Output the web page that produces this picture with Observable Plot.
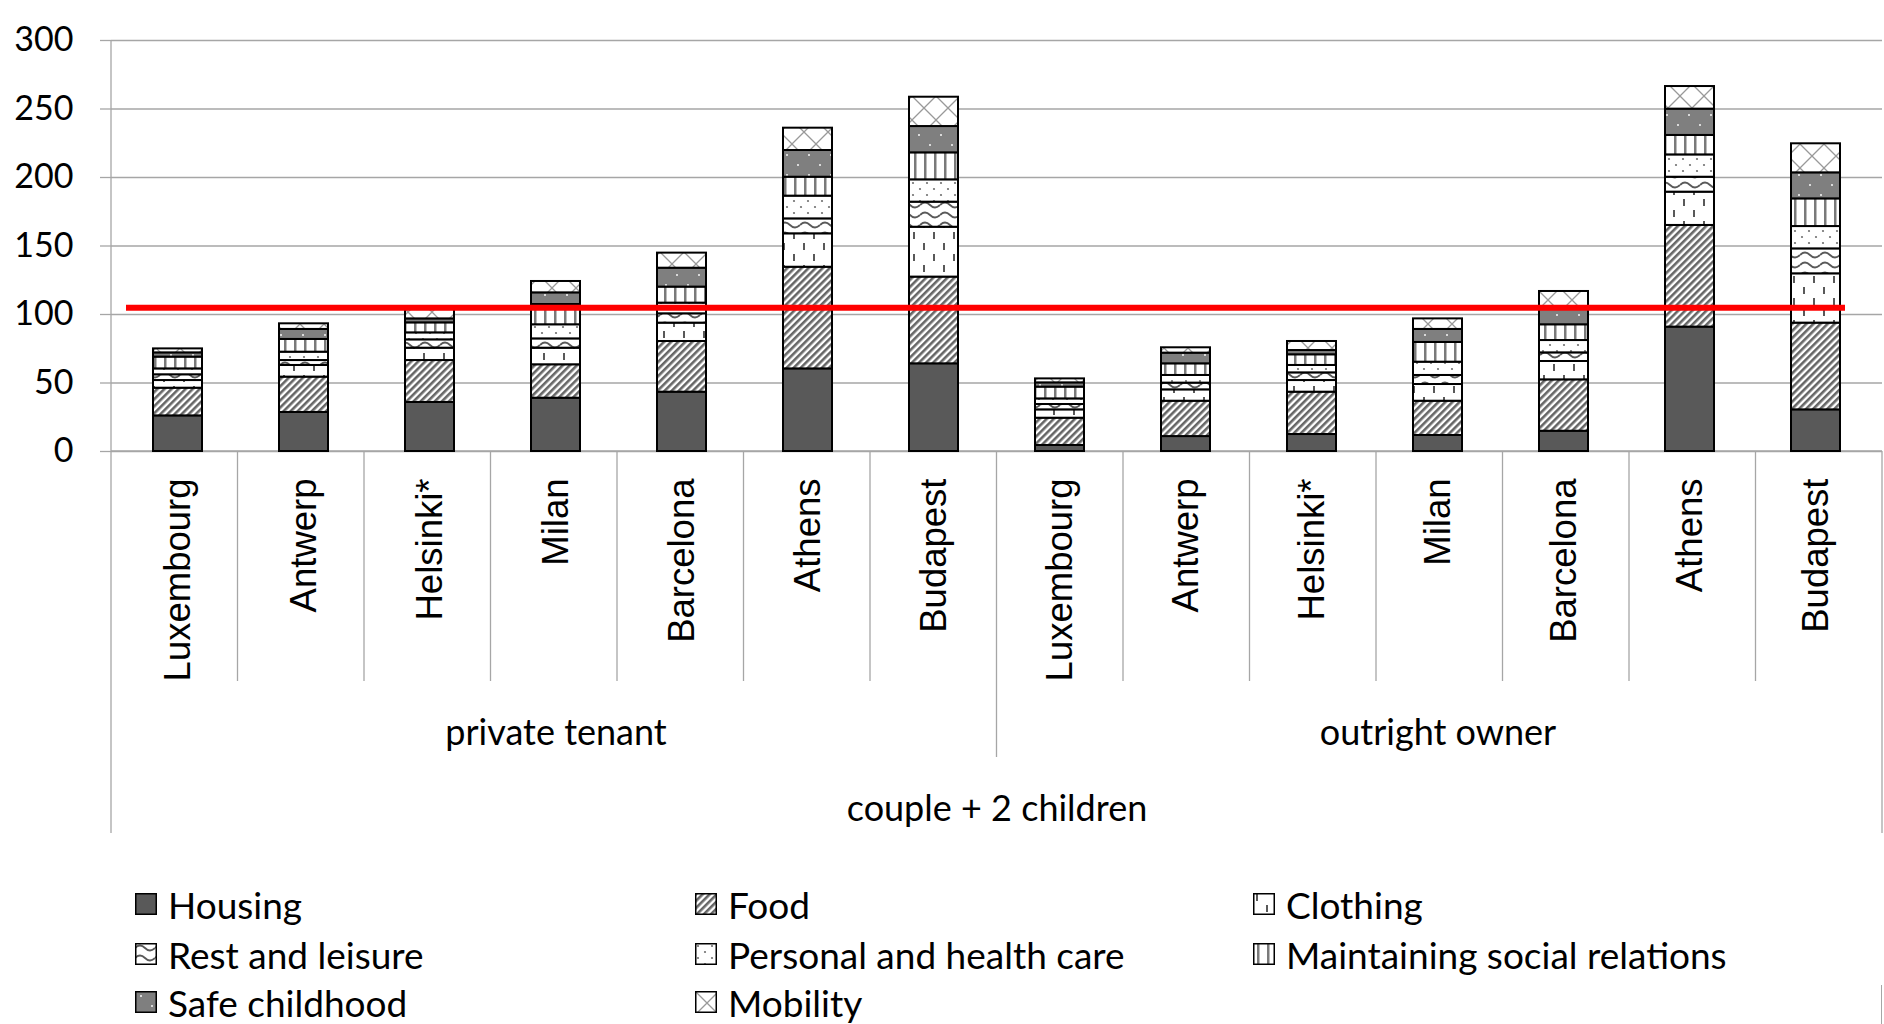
<!DOCTYPE html>
<html><head><meta charset="utf-8">
<script src="https://cdn.jsdelivr.net/npm/d3@7"></script>
<script src="https://cdn.jsdelivr.net/npm/@observablehq/plot@0.6"></script>
<style>
html,body{margin:0;padding:0;background:#fff;}
#wrap{position:relative;width:1884px;height:1024px;overflow:hidden;background:#fff;}
#chart svg{display:block;}
#legend{position:absolute;left:0;top:0;width:1884px;height:1024px;font-family:Lato, sans-serif;font-size:37px;line-height:1;color:#000;pointer-events:none;}
.item{position:absolute;display:flex;align-items:center;height:37px;white-space:nowrap;}
.item svg{margin-right:11px;flex:none;}
#edge{position:absolute;left:1881px;top:985px;width:1px;height:39px;background:#a6a6a6;}
</style></head><body>
<svg width="0" height="0" style="position:absolute">
<defs>
<pattern id="pat1" width="5" height="5" patternUnits="userSpaceOnUse" patternTransform="rotate(45)">
<rect width="5" height="5" fill="#fff"/><rect width="2.6" height="5" fill="#666"/></pattern>
<pattern id="pat2" width="20" height="22" patternUnits="userSpaceOnUse">
<rect width="20" height="22" fill="#fff"/>
<rect x="3" y="1" width="2" height="7" fill="#595959"/>
<rect x="13" y="12" width="2" height="7" fill="#595959"/></pattern>
<pattern id="pat3" width="20" height="10" patternUnits="userSpaceOnUse">
<rect width="20" height="10" fill="#fff"/>
<path d="M0,5 Q5,0 10,5 T20,5" fill="none" stroke="#595959" stroke-width="1.8"/></pattern>
<pattern id="pat4" width="14" height="12" patternUnits="userSpaceOnUse">
<rect width="14" height="12" fill="#fff"/>
<circle cx="3" cy="3" r="1.1" fill="#707070"/><circle cx="10" cy="9" r="1.1" fill="#707070"/></pattern>
<pattern id="pat5" width="10" height="10" patternUnits="userSpaceOnUse">
<rect width="10" height="10" fill="#fff"/><rect x="4" width="2.5" height="10" fill="#7a7a7a"/></pattern>
<pattern id="pat6" width="22" height="20" patternUnits="userSpaceOnUse">
<rect width="22" height="20" fill="#7f7f7f"/>
<rect x="5" y="4" width="2" height="2" fill="#d9d9d9"/><rect x="16" y="14" width="2" height="2" fill="#d9d9d9"/></pattern>
<pattern id="pat7" width="24" height="24" patternUnits="userSpaceOnUse">
<rect width="24" height="24" fill="#fff"/>
<path d="M0,0 L24,24 M24,0 L0,24" stroke="#999" stroke-width="1.3"/></pattern>
</defs></svg>
<div id="wrap"><div id="chart"></div><div id="legend"></div><div id="edge"></div></div>
<script>
const categories = ["Housing", "Food", "Clothing", "Rest and leisure", "Personal and health care", "Maintaining social relations", "Safe childhood", "Mobility"];
const groups = ["private tenant", "outright owner"];
const cities = ["Luxembourg", "Antwerp", "Helsinki*", "Milan", "Barcelona", "Athens", "Budapest"];
const outerLabel = "couple + 2 children";

const housing  = [26.0, 28.5, 35.8, 38.9, 43.3, 60.3, 64.0, 4.4, 10.9, 12.4, 11.7, 14.8, 90.8, 30.4];
const food     = [20.2, 25.8, 30.6, 24.4, 37.0, 74.2, 63.3, 19.9, 25.8, 30.9, 25.0, 37.5, 74.2, 63.3];
const clothing = [5.6, 8.5, 9.0, 12.1, 13.4, 24.4, 36.4, 6.1, 8.3, 8.5, 12.2, 13.4, 24.3, 36.0];
const rest     = [4.2, 3.6, 6.1, 6.8, 6.8, 10.9, 18.3, 3.9, 4.9, 5.6, 6.6, 6.3, 10.9, 18.2];
const personal = [4.3, 6.1, 5.1, 10.3, 7.8, 16.6, 16.3, 4.1, 5.6, 5.4, 9.7, 9.0, 16.3, 16.3];
const social   = [8.6, 9.3, 7.3, 14.8, 11.7, 13.8, 19.7, 8.6, 8.5, 7.8, 14.4, 11.5, 14.2, 20.2];
const safe     = [3.1, 7.3, 2.9, 8.5, 13.8, 19.5, 19.2, 3.1, 7.8, 3.1, 9.5, 11.6, 19.2, 19.0];
const mobility = [2.9, 4.1, 6.8, 8.3, 11.0, 16.3, 21.4, 2.9, 3.9, 6.6, 7.7, 12.7, 16.5, 21.2];

const threshold = 105;
const yTicks = [0, 50, 100, 150, 200, 250, 300];

const fills = ["#595959", "url(#pat1)", "url(#pat2)", "url(#pat3)", "url(#pat4)", "url(#pat5)", "url(#pat6)", "url(#pat7)"];
const series = [housing, food, clothing, rest, personal, social, safe, mobility];
const keys = groups.flatMap(g => cities.map(c => g + "|" + c));
const table = categories.flatMap((cat, j) => keys.map((k, i) => ({key: k, cat, value: series[j][i]})));
const groupCenters = groups.map((g, i) => ({key: keys[i * cities.length + Math.floor(cities.length / 2)], label: g}));

const GRID = "#a6a6a6";
const TXT = "Lato, sans-serif";

function decor(index, scales, values, dims) {
  const {width, height, marginLeft, marginRight, marginTop, marginBottom} = dims;
  const x0 = marginLeft, x1 = width - marginRight, yb = height - marginBottom;
  const step = (x1 - x0) / keys.length;
  const g = d3.create("svg:g").attr("stroke", GRID).attr("stroke-width", 1.3).attr("fill", "none");
  const line = (xa, ya, xb, yb2) => g.append("line").attr("x1", xa).attr("y1", ya).attr("x2", xb).attr("y2", yb2);
  line(x0, marginTop, x0, yb + 382);
  line(x1, yb, x1, yb + 382);
  line(x0, yb, x1, yb);
  for (let i = 1; i < keys.length; i++) {
    const x = x0 + i * step;
    line(x, yb, x, yb + (i % cities.length === 0 ? 306 : 230));
  }
  return g.node();
}

const chart = Plot.plot({
  width: 1884,
  height: 879,
  marginTop: 40,
  marginBottom: 428,
  marginLeft: 111,
  marginRight: 2,
  style: {background: "#fff", color: "#000"},
  x: {domain: keys, paddingInner: 0.61, paddingOuter: 0.305, label: null},
  y: {domain: [0, 300], label: null},
  color: {type: "ordinal", domain: categories, range: fills},
  marks: [
    Plot.gridY(yTicks, {stroke: GRID, strokeOpacity: 1, strokeWidth: 1.3}),
    decor,
    Plot.barY(table, {x: "key", y: "value", fill: "cat", order: categories, stroke: "#000", strokeWidth: 2}),
    Plot.ruleY([threshold], {stroke: "#ff0000", strokeWidth: 6, insetLeft: 15, insetRight: 37}),
    Plot.axisY({ticks: yTicks, tickSize: 11, tickPadding: 27, stroke: GRID, strokeWidth: 1.3, fill: "#000", fontSize: 34, fontFamily: TXT, label: null}),
    Plot.axisX({tickSize: 0, tickPadding: 27, tickRotate: -90, fill: "#000", fontSize: 36.5, fontFamily: "Liberation Sans, Arial, sans-serif", tickFormat: k => k.split("|")[1], label: null}),
    Plot.text(groupCenters, {x: "key", text: "label", frameAnchor: "bottom", dy: 293, fontSize: 36, fontFamily: TXT, fill: "#000"}),
    Plot.text([outerLabel], {frameAnchor: "bottom", dy: 369, fontSize: 36, fontFamily: TXT, fill: "#000"})
  ]
});
document.getElementById("chart").appendChild(chart);

const legend = document.getElementById("legend");
const colX = [135, 695, 1253];
const rowCenter = [904, 954, 1002];
categories.forEach((cat, i) => {
  const div = document.createElement("div");
  div.className = "item";
  div.style.left = colX[i % 3] + "px";
  div.style.top = (rowCenter[Math.floor(i / 3)] - 18.5) + "px";
  div.innerHTML = `<svg width="22" height="22"><rect x="0.75" y="0.75" width="20.5" height="20.5" fill="${fills[i]}" stroke="#000" stroke-width="1.5"/></svg><span>${cat}</span>`;
  legend.appendChild(div);
});
</script>
</body></html>
